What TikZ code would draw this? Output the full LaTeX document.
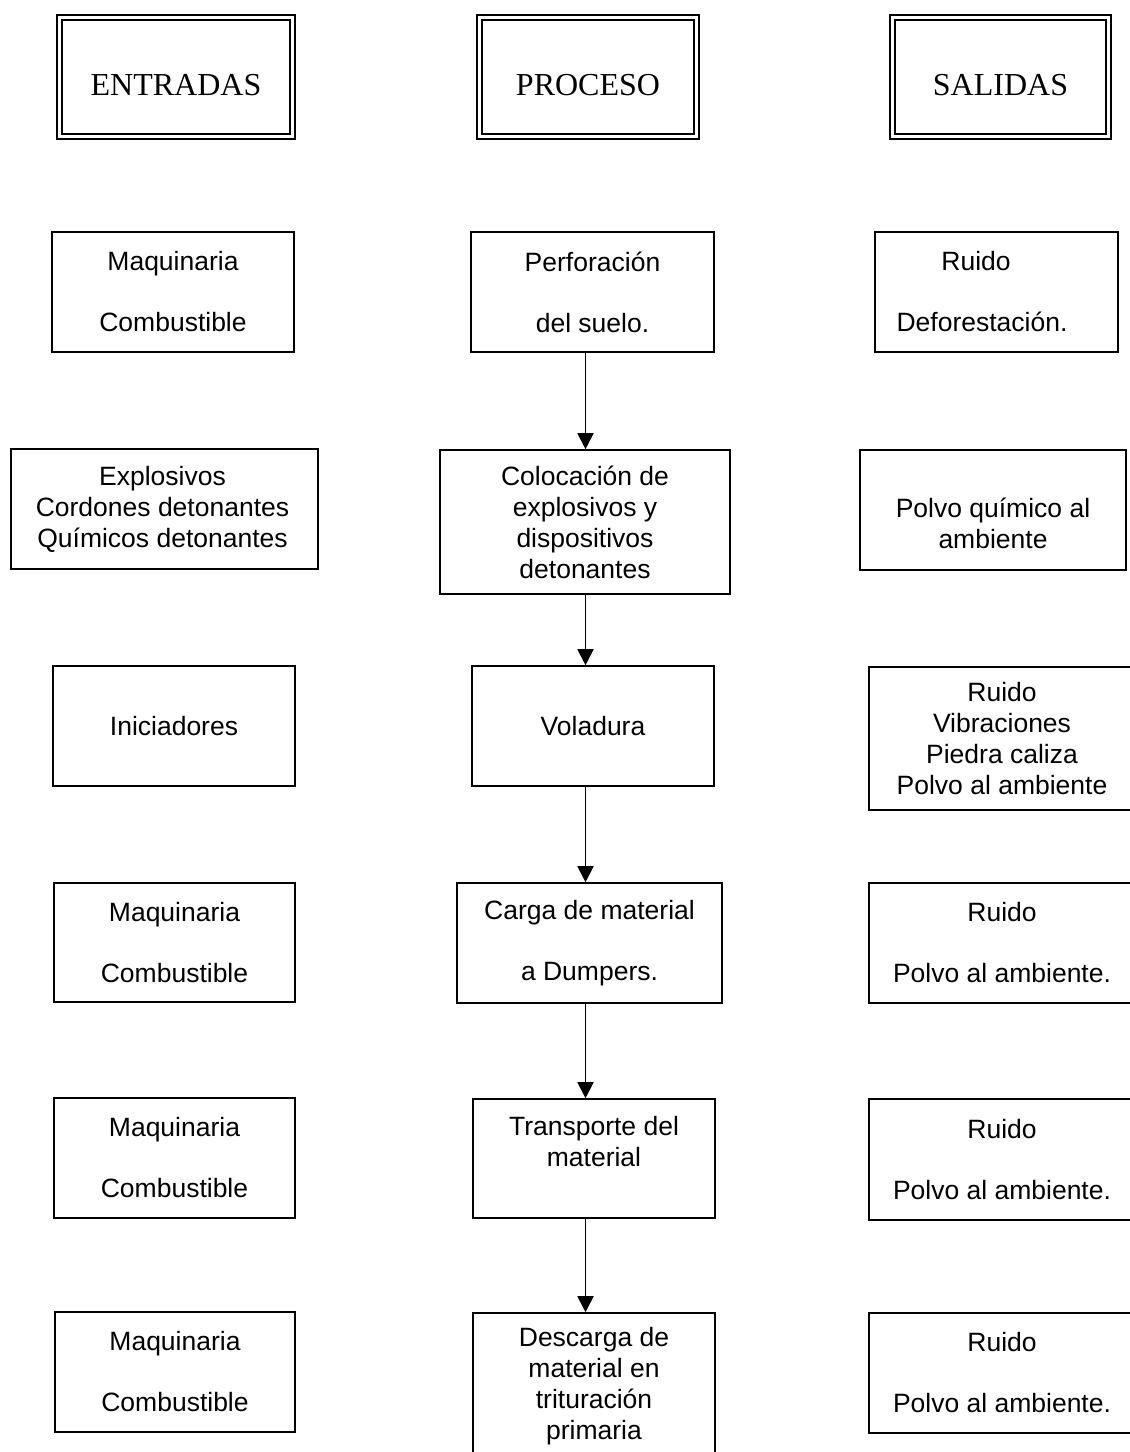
\documentclass[tikz,border=0pt]{standalone}
\usepackage{fontspec}
\setmainfont{Liberation Serif}
\newfontfamily\arialf{Liberation Sans}
\usetikzlibrary{arrows.meta, positioning}

\begin{document}
\begin{tikzpicture}[
    x=1pt, y=-1pt,
    >={Triangle[width=16pt,length=16pt]},
    caja/.style={draw, rectangle, line width=1.6pt, align=center, inner sep=0pt,
        font=\arialf\fontsize{26.5}{31}\selectfont},
    titulo/.style={draw, rectangle, double, double distance=2.5pt, line width=2.2pt,
        inner sep=0pt, text height=37pt, text depth=0pt,
        minimum height=119pt, font=\fontsize{32}{38}\selectfont},
    flecha/.style={->, line width=1.9pt},
]
\useasboundingbox (0,0) rectangle (1130,1452);

% column headers
\node[titulo, minimum width=233pt] (ent) at (176,77) {ENTRADAS};
\node[titulo, minimum width=217pt] (pro) at (588,77) {PROCESO};
\node[titulo, minimum width=216pt] (sal) at (1000.5,77) {SALIDAS};

% row 1
\node[caja, minimum width=242pt, minimum height=120pt] (maq1) at (173,292)
    {Maquinaria\\[30pt]Combustible};
\node[caja, minimum width=243pt, minimum height=120pt] (per) at (592.5,292)
    {Perforación\\[30pt]del suelo.};
\node[caja, minimum width=243pt, minimum height=120pt] (rui1) at (996.5,292)
    {\hspace*{-41pt}Ruido\\[30pt]\hspace*{-29pt}Deforestación.};

% row 2
\node[caja, minimum width=307pt, minimum height=120pt] (exp) at (164.5,509)
    {\hspace*{-4pt}Explosivos\\\hspace*{-4pt}Cordones detonantes\\\hspace*{-4pt}Químicos detonantes};
\node[caja, minimum width=290pt, minimum height=144pt] (col) at (585,522)
    {Colocación de\\explosivos y\\dispositivos\\detonantes};
\node[caja, minimum width=266pt, minimum height=120pt] (pol2) at (993,510)
    {\strut\\[-6pt]Polvo químico al\\ambiente};

% row 3
\node[caja, minimum width=242pt, minimum height=120pt] (ini) at (174,726) {Iniciadores};
\node[caja, minimum width=242pt, minimum height=120pt] (vol) at (593,726) {Voladura};
\node[caja, minimum width=266pt, minimum height=143pt] (rui3) at (1002,738.5)
    {Ruido\\Vibraciones\\Piedra caliza\\Polvo al ambiente};

% row 4
\node[caja, minimum width=241pt, minimum height=119pt] (maq4) at (174.5,942.5)
    {Maquinaria\\[30pt]Combustible};
\node[caja, minimum width=265pt, minimum height=120pt] (car) at (589.5,943)
    {Carga de material\\[30pt]a Dumpers.};
\node[caja, minimum width=266pt, minimum height=120pt] (rui4) at (1002,943)
    {Ruido\\[30pt]Polvo al ambiente.};

% row 5
\node[caja, minimum width=241pt, minimum height=120pt] (maq5) at (174.5,1158)
    {Maquinaria\\[30pt]Combustible};
\node[caja, minimum width=242pt, minimum height=119pt] (tra) at (594,1158.5)
    {Transporte del\\material\\[-6pt]\strut};
\node[caja, minimum width=266pt, minimum height=121pt] (rui5) at (1002,1159.5)
    {Ruido\\[30pt]Polvo al ambiente.};

% row 6
\node[caja, minimum width=240pt, minimum height=120pt] (maq6) at (175,1372)
    {Maquinaria\\[30pt]Combustible};
\node[caja, minimum width=242pt, minimum height=146pt] (des) at (594,1386)
    {Descarga de\\material en\\trituración\\primaria};
\node[caja, minimum width=266pt, minimum height=120pt] (rui6) at (1002,1373)
    {Ruido\\[30pt]Polvo al ambiente.};

% process flow
\coordinate (eje) at (585.5,0);
\draw[flecha] (per.south -| eje) -- (col.north -| eje);
\draw[flecha] (col.south -| eje) -- (vol.north -| eje);
\draw[flecha] (vol.south -| eje) -- (car.north -| eje);
\draw[flecha] (car.south -| eje) -- (tra.north -| eje);
\draw[flecha] (tra.south -| eje) -- (des.north -| eje);
\end{tikzpicture}
\end{document}
